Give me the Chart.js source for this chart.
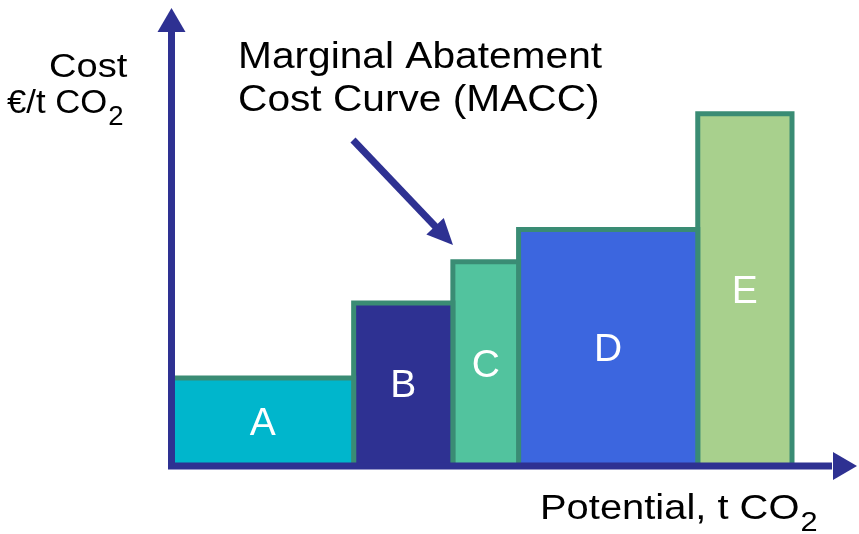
<!DOCTYPE html>
<html>
<head>
<meta charset="utf-8">
<script src="https://cdn.jsdelivr.net/npm/chart.js@4"></script>
<style>
  body { margin: 0; background: #fff; }
  canvas { display: block; }
</style>
</head>
<body>
<canvas id="macc" width="859" height="534"></canvas>
<script>
// measures (categories) and their values
const measures = ['A', 'B', 'C', 'D', 'E'];
const potential = [29.3, 16.0, 10.6, 28.9, 15.2];   // t CO2, bar widths
const cost = [25, 46.3, 58, 67.1, 100];              // €/t CO2, bar heights
const fillColors = ['#00B6CC', '#2E3192', '#52C39E', '#3C66DF', '#A8D08D'];

const edgeColor = '#3A8C74';
const axisColor = '#2E3192';
const stretch = 1.12; // the original text is a bit wide

// one filled step per measure
let start = 0;
const datasets = measures.map(function (m, i) {
  const x0 = start;
  const x1 = start + potential[i];
  start = x1;
  return {
    label: m,
    data: [{x: x0, y: 0}, {x: x0, y: cost[i]}, {x: x1, y: cost[i]}, {x: x1, y: 0}],
    backgroundColor: fillColors[i],
    borderColor: edgeColor,
    borderWidth: 5,
    borderJoinStyle: 'miter',
    pointRadius: 0,
    tension: 0,
    fill: 'origin',
    clip: false
  };
});

function wideText(ctx, txt, x, y, size, sx) {
  ctx.save();
  ctx.font = size + 'px "Liberation Sans", Arial, sans-serif';
  ctx.translate(x, y);
  ctx.scale(sx, 1);
  ctx.fillText(txt, 0, 0);
  const w = ctx.measureText(txt).width * sx;
  ctx.restore();
  return w;
}

function withSub(ctx, txt, sub, x, y, size, sx) {
  const w = wideText(ctx, txt, x, y, size, sx);
  wideText(ctx, sub, x + w + 1, y + 12, 27, sx);
}

const decor = {
  id: 'decor',
  afterDatasetsDraw(chart) {
    const ctx = chart.ctx;
    const xs = chart.scales.x, ys = chart.scales.y;
    const area = chart.chartArea;
    const ox = xs.getPixelForValue(0) - 0.5;
    const oy = ys.getPixelForValue(0);

    // axes with arrow heads
    ctx.save();
    ctx.strokeStyle = axisColor;
    ctx.fillStyle = axisColor;
    ctx.lineWidth = 7;
    ctx.beginPath();
    ctx.moveTo(ox, oy + 3.5);
    ctx.lineTo(ox, area.top + 22);
    ctx.moveTo(ox - 3.5, oy);
    ctx.lineTo(area.right - 22, oy);
    ctx.stroke();
    ctx.beginPath();
    ctx.moveTo(ox, area.top);
    ctx.lineTo(ox - 14, area.top + 24);
    ctx.lineTo(ox + 14, area.top + 24);
    ctx.closePath();
    ctx.fill();
    ctx.beginPath();
    ctx.moveTo(area.right + 3, oy);
    ctx.lineTo(area.right - 21, oy - 14);
    ctx.lineTo(area.right - 21, oy + 14);
    ctx.closePath();
    ctx.fill();

    // pointer to the curve
    const ax = 353, ay = 140, tx = 453, ty = 245;
    const ang = Math.atan2(ty - ay, tx - ax);
    ctx.beginPath();
    ctx.moveTo(ax, ay);
    ctx.lineTo(tx - 18 * Math.cos(ang), ty - 18 * Math.sin(ang));
    ctx.stroke();
    ctx.beginPath();
    ctx.moveTo(tx, ty);
    ctx.lineTo(tx - 26 * Math.cos(ang) + 12 * Math.sin(ang), ty - 26 * Math.sin(ang) - 12 * Math.cos(ang));
    ctx.lineTo(tx - 26 * Math.cos(ang) - 12 * Math.sin(ang), ty - 26 * Math.sin(ang) + 12 * Math.cos(ang));
    ctx.closePath();
    ctx.fill();
    ctx.restore();

    // letters in the bars
    ctx.save();
    ctx.fillStyle = '#fff';
    ctx.textAlign = 'center';
    ctx.textBaseline = 'middle';
    ctx.font = '39px "Liberation Sans", Arial, sans-serif';
    let s = 0;
    measures.forEach(function (m, i) {
      const cx = xs.getPixelForValue(s + potential[i] / 2);
      const cy = ys.getPixelForValue(cost[i] / 2);
      ctx.fillText(m, cx, cy + 2);
      s += potential[i];
    });
    ctx.restore();

    // titles
    ctx.save();
    ctx.fillStyle = '#000';
    ctx.textBaseline = 'alphabetic';
    wideText(ctx, 'Marginal Abatement', 238, 68, 36, 1.13);
    wideText(ctx, 'Cost Curve (MACC)', 238, 111, 36, 1.13);
    wideText(ctx, 'Cost', 49, 77, 34, stretch);
    withSub(ctx, '€/t CO', '2', 7, 113, 34, 1.02);
    withSub(ctx, 'Potential, t CO', '2', 540, 519, 35, 1.14);
    ctx.restore();
  }
};

new Chart(document.getElementById('macc'), {
  type: 'line',
  data: { datasets: datasets },
  options: {
    responsive: false,
    animation: false,
    devicePixelRatio: 1,
    layout: { padding: { left: 172, right: 5, top: 8, bottom: 68 } },
    scales: {
      x: { type: 'linear', min: 0, max: 110, display: false },
      y: { type: 'linear', min: 0, max: 130, display: false }
    },
    plugins: {
      legend: { display: false },
      tooltip: { enabled: false }
    }
  },
  plugins: [decor]
});
</script>
</body>
</html>
